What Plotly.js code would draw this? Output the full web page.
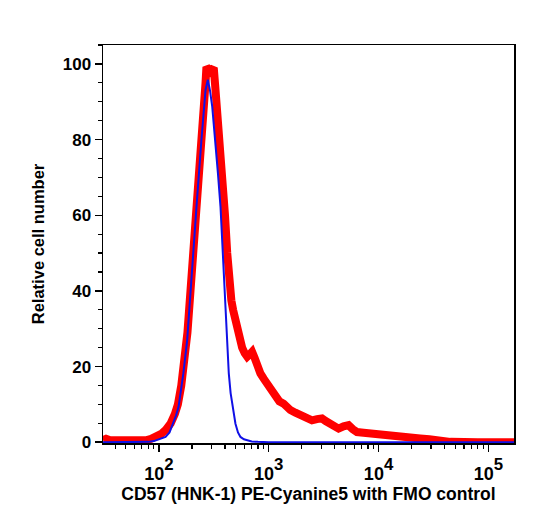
<!DOCTYPE html>
<html>
<head>
<meta charset="utf-8">
<script src="https://cdn.plot.ly/plotly-3.0.1.min.js"></script>
<style>html,body{margin:0;padding:0;background:#fff;}#chart{width:535px;height:514px;}</style>
</head>
<body>
<div id="chart"></div>
<script>
// Stained sample (red) – fluorescence intensity vs relative cell number
const redX = [31,33,36,50,65,76,85,95,105,115,128,140,149,160,169,182,194,207,219,232,243,252,261,266,271,283,295,306,316,326,335,356,375,400,419,430,440,457,474,495,516,545,573,605,637,670,706,740,775,840,900,966,1050,1151,1250,1368,1470,1574,1750,1941,2200,2477,2750,3055,3300,3639,4000,4325,4800,5333,5800,6368,7300,8414,9700,11100,12800,14690,19000,23930,29000,33900,45000,80000,171000];
const redY = [0.6,0.9,0.5,0.3,0.3,0.5,0.9,1.4,2.2,3.2,5,7.5,10,15,20,29,40,50,60,70,80,86,90,95,99.2,98.5,98,98.6,99,94,90,80,70,60,50,44,40,37.5,35,32.5,30,27.5,25,23.5,22.6,23.2,23.9,22.5,20.5,18.2,16.8,15.5,13.5,11.5,10.8,10.2,9.2,8.5,7.8,7.1,6.5,5.8,6.1,6.3,5.6,4.9,4.2,3.6,4.2,4.5,3.5,2.7,2.5,2.3,2.1,1.9,1.5,1.2,1.1,1.0,0.8,0.5,0.1,0,0];

// FMO control (blue)
const blueX = [31,60,80,90,100,115,125,135,143,151,160,167,181,201,220,244,256,266,279,292,306,327,345,364,390,405,419,433,450,471,498,525,553,595,637,700,800,1000,171000];
const blueY = [0,0,0.1,0.3,0.7,1.4,2.6,4.9,7,9.3,14,18.2,27,44.6,62.2,79.9,87,93.1,95.8,93,88.7,79.9,71,62.2,44.6,35,27,18.2,13,9.3,4.9,2.6,1.4,0.8,0.5,0.2,0.1,0,0];

const xTickVals = [100,1000,10000,100000];
const xTickText = [
  '<span style="font-size:18px">10</span><sup>2</sup>',
  '<span style="font-size:18px">10</span><sup>3</sup>',
  '<span style="font-size:18px">10</span><sup>4</sup>',
  '<span style="font-size:18px">10</span><sup>5</sup>'
];
const yTickVals = [0,20,40,60,80,100];
const xTitle = 'CD57 (HNK-1) PE-Cyanine5 with FMO control';
const yTitle = 'Relative cell number';

const xMinor = [];
for (let d = 10; d <= 100000; d *= 10) {
  for (let m = 2; m <= 9; m++) xMinor.push(d * m);
}

const font = {family: 'Liberation Sans, Arial, Helvetica, sans-serif', color: '#000', weight: 'bold'};

const traces = [
  {x: redX, y: redY, type: 'scatter', mode: 'lines', line: {color: '#ff0000', width: 8}, hoverinfo: 'skip'},
  {x: blueX, y: blueY, type: 'scatter', mode: 'lines', line: {color: '#1010e6', width: 2}, hoverinfo: 'skip'}
];

const layout = {
  width: 535, height: 514,
  margin: {l: 103, r: 21, t: 45, b: 71},
  paper_bgcolor: '#fff', plot_bgcolor: '#fff',
  showlegend: false,
  font: Object.assign({size: 17}, font),
  xaxis: {
    type: 'log',
    range: [Math.log10(31), Math.log10(171000)],
    tickmode: 'array', tickvals: xTickVals, ticktext: xTickText,
    ticks: 'outside', ticklen: 7, tickwidth: 1.5, tickcolor: '#000',
    minor: {tickmode: 'array', tickvals: xMinor, ticks: 'outside', ticklen: 4, tickwidth: 1.2, tickcolor: '#000', showgrid: false},
    showline: true, linecolor: '#000', linewidth: 1.5, mirror: true,
    showgrid: false, zeroline: false,
    tickfont: Object.assign({size: 24}, font),
    title: {text: xTitle, font: Object.assign({size: 17.5}, font), standoff: 0}
  },
  yaxis: {
    range: [-0.2, 105],
    tickmode: 'array', tickvals: yTickVals,
    ticks: 'outside', ticklen: 7, tickwidth: 1.5, tickcolor: '#000',
    minor: {dtick: 5, ticks: 'outside', ticklen: 4, tickwidth: 1.2, tickcolor: '#000', showgrid: false},
    showline: true, linecolor: '#000', linewidth: 1.5, mirror: true,
    showgrid: false, zeroline: false,
    tickfont: Object.assign({size: 17}, font),
    title: {text: yTitle, font: Object.assign({size: 16.5}, font), standoff: 14}
  }
};

Plotly.newPlot('chart', traces, layout, {staticPlot: true, displayModeBar: false});
</script>
</body>
</html>
